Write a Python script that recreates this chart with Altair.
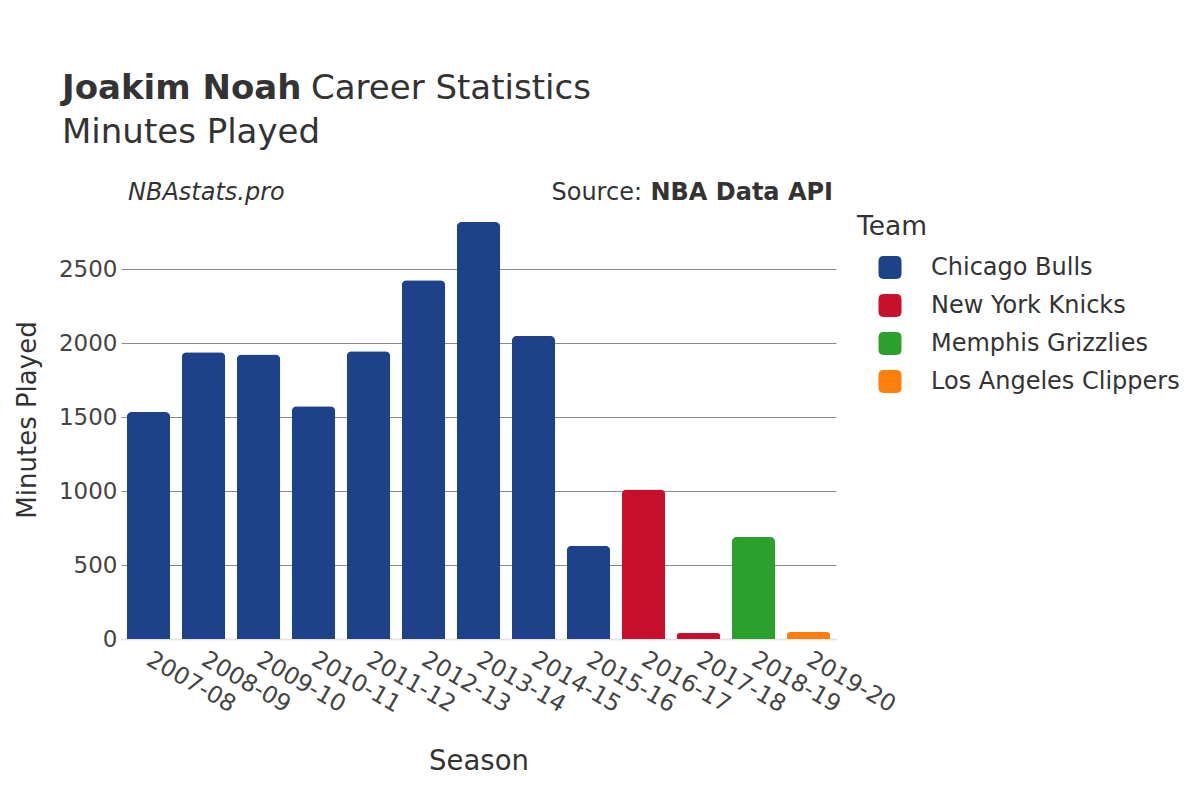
import altair as alt
import pandas as pd

seasons = ["2007-08", "2008-09", "2009-10", "2010-11", "2011-12", "2012-13", "2013-14",
           "2014-15", "2015-16", "2016-17", "2017-18", "2018-19", "2019-20"]
minutes = [1534, 1939, 1924, 1574, 1945, 2426, 2820, 2049, 631, 1010, 40, 690, 47]
teams = ["Chicago Bulls", "Chicago Bulls", "Chicago Bulls", "Chicago Bulls", "Chicago Bulls",
         "Chicago Bulls", "Chicago Bulls", "Chicago Bulls", "Chicago Bulls", "New York Knicks",
         "New York Knicks", "Memphis Grizzlies", "Los Angeles Clippers"]
team_order = ["Chicago Bulls", "New York Knicks", "Memphis Grizzlies", "Los Angeles Clippers"]
team_colors = ["#1d428a", "#c8102e", "#2ca02c", "#ff7f0e"]
y_ticks = [0, 500, 1000, 1500, 2000, 2500]

df = pd.DataFrame({"Season": seasons, "Minutes": minutes, "Team": teams})

FONT = "DejaVu Sans"
TXT = "#333333"
W, H = 715, 439

rounded_square = ("M-1,-0.55 Q-1,-1 -0.55,-1 L0.55,-1 Q1,-1 1,-0.55 L1,0.55 Q1,1 0.55,1 "
                  "L-0.55,1 Q-1,1 -1,0.55 Z")

bars = alt.Chart(df).mark_bar(cornerRadiusTopLeft=5, cornerRadiusTopRight=5).encode(
    x=alt.X("Season:N", sort=seasons,
            scale=alt.Scale(paddingInner=0.21, paddingOuter=0.105),
            axis=alt.Axis(title="Season", labelAngle=30, labelAlign="left", labelBaseline="top",
                          labelFontSize=23.5, labelColor="#444444", labelPadding=8, labelOffset=6,
                          labelFont=FONT, ticks=False, domainColor="#e5e5e5", domainWidth=2,
                          titleFontSize=27.5, titleFont=FONT, titleColor=TXT, titleFontWeight="normal",
                          titleX=W / 2, titleY=130, titleBaseline="alphabetic", titleAlign="center")),
    y=alt.Y("Minutes:Q", scale=alt.Scale(domain=[0, 2968], nice=False),
            axis=alt.Axis(title="Minutes Played", values=y_ticks, format="d", labelFontSize=23,
                          labelColor="#444444", labelPadding=4, labelFont=FONT, ticks=False,
                          domain=False, grid=True, gridColor="#8c8c8c", gridWidth=1,
                          titleFontSize=26, titleFont=FONT, titleColor=TXT, titleFontWeight="normal",
                          titleX=-94, titleY=H / 2, titleAngle=-90, titleBaseline="middle",
                          titleAlign="center")),
    color=alt.Color("Team:N", scale=alt.Scale(domain=team_order, range=team_colors),
                    legend=alt.Legend(title="Team", orient="none", legendX=736, legendY=14,
                                      titleFontSize=26.5, titleFont=FONT, titleColor=TXT,
                                      titleFontWeight="normal", titlePadding=15,
                                      labelFontSize=24, labelFont=FONT, labelColor=TXT,
                                      labelLimit=0, labelOffset=29, symbolType=rounded_square,
                                      symbolSize=529, symbolOffset=21, symbolStrokeWidth=0,
                                      symbolOpacity=1, rowPadding=14, padding=0)),
)

def txt(s, x, y, size, weight="normal", style="normal", align="left"):
    return alt.Chart(pd.DataFrame({"t": [s]})).mark_text(
        font=FONT, fontSize=size, fontWeight=weight, fontStyle=style, align=align,
        baseline="alphabetic", color=TXT
    ).encode(text="t:N", x=alt.value(x), y=alt.value(y))

title_bold = "Joakim Noah"
title_rest = "Career Statistics"
subtitle = "Minutes Played"

layers = [
    bars,
    txt(title_bold, -59, -101, 34, weight="bold"),
    txt(title_rest, 190, -101, 34),
    txt(subtitle, -59, -57, 34),
    txt("NBAstats.pro", 7, 0, 24, style="italic"),
    txt("NBA Data API", 712, 0, 24, weight="bold", align="right"),
    txt("Source:", 521, 0, 24, align="right"),
]

chart = alt.layer(*layers).properties(
    width=W, height=H,
    autosize=alt.AutoSizeParams(type="none"),
    padding={"left": 113, "top": 192, "right": 356, "bottom": 150},
).configure(background="white", view=alt.ViewConfig(strokeWidth=0, stroke="transparent"))

chart.save("out.html", embed_options={"renderer": "svg", "actions": False})
